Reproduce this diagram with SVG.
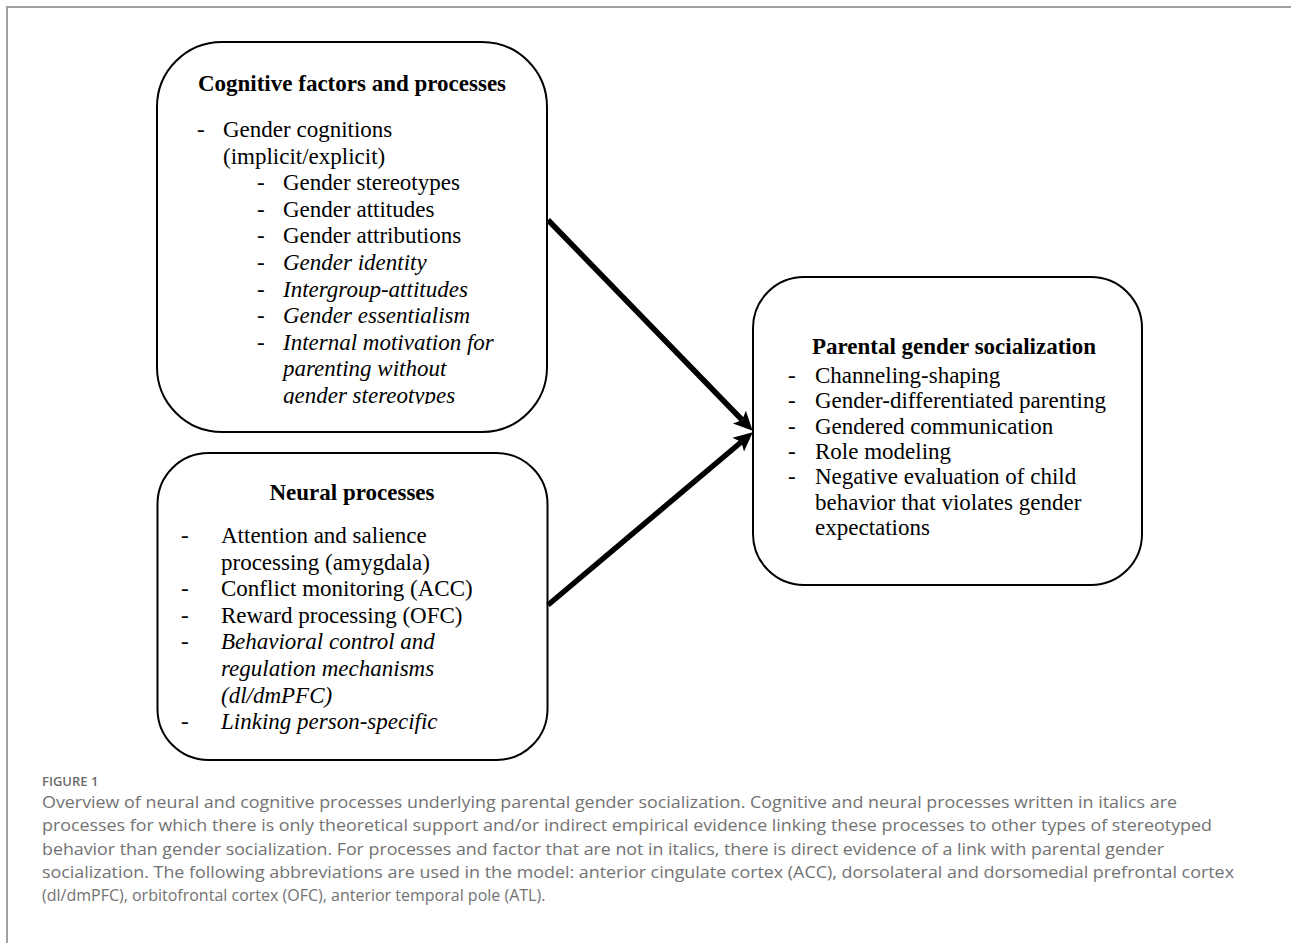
<svg xmlns="http://www.w3.org/2000/svg" width="1291" height="943" viewBox="0 0 1291 943">
<style>
.box{fill:#fff;stroke:#000;stroke-width:2}
.t{font-family:"Liberation Serif","Times New Roman",serif;font-size:23px;fill:#000}
.b{font-weight:bold}
.i{font-style:italic}
.m{text-anchor:middle}
.conn{stroke:#000;stroke-width:5.5;fill:none}
.cap{font-family:"Open Sans","Liberation Sans",sans-serif;font-size:16px;fill:#727272}
.fig{font-family:"Open Sans","Liberation Sans",sans-serif;font-size:13px;fill:#6b6b6b;font-weight:600}
.frame{stroke:#a0a0a0;stroke-width:2;fill:none}
</style>
<defs>
<marker id="ah" markerUnits="userSpaceOnUse" markerWidth="24" markerHeight="24" viewBox="-2 -12 24 24" refX="4" refY="0" orient="auto">
<path d="M0,-9 L19,0 L0,9 L4,0 Z" fill="#000"/>
</marker>
<clipPath id="c1"><rect x="150" y="40" width="400" height="364"/></clipPath>
</defs>
<rect width="1291" height="943" fill="#fff"/>
<path class="frame" d="M7,943 L7,7 L1291,7"/>

<g id="cognitive">
<rect class="box" x="157" y="42" width="390" height="390" rx="65" ry="65"/>
<g clip-path="url(#c1)">
<text class="t b m" x="352" y="91">Cognitive factors and processes</text>
<text class="t" x="197" y="137">-</text>
<text class="t" x="223" y="137">Gender cognitions</text>
<text class="t" x="223" y="163.6">(implicit/explicit)</text>
<text class="t" x="257" y="190.2">-</text>
<text class="t" x="283" y="190.2">Gender stereotypes</text>
<text class="t" x="257" y="216.8">-</text>
<text class="t" x="283" y="216.8">Gender attitudes</text>
<text class="t" x="257" y="243.4">-</text>
<text class="t" x="283" y="243.4">Gender attributions</text>
<text class="t" x="257" y="270">-</text>
<text class="t i" x="283" y="270">Gender identity</text>
<text class="t" x="257" y="296.6">-</text>
<text class="t i" x="283" y="296.6">Intergroup-attitudes</text>
<text class="t" x="257" y="323.2">-</text>
<text class="t i" x="283" y="323.2">Gender essentialism</text>
<text class="t" x="257" y="349.8">-</text>
<text class="t i" x="283" y="349.8">Internal motivation for</text>
<text class="t i" x="283" y="376.4">parenting without</text>
<text class="t i" x="283" y="403">gender stereotypes</text>
</g>
</g>

<g id="neural">
<rect class="box" x="157.5" y="453" width="390" height="307" rx="51" ry="51"/>
<text class="t b m" x="352" y="500">Neural processes</text>
<text class="t" x="181" y="543">-</text>
<text class="t" x="221" y="543">Attention and salience</text>
<text class="t" x="221" y="569.6">processing (amygdala)</text>
<text class="t" x="181" y="596.2">-</text>
<text class="t" x="221" y="596.2">Conflict monitoring (ACC)</text>
<text class="t" x="181" y="622.8">-</text>
<text class="t" x="221" y="622.8">Reward processing (OFC)</text>
<text class="t" x="181" y="649.4">-</text>
<text class="t i" x="221" y="649.4">Behavioral control and</text>
<text class="t i" x="221" y="676">regulation mechanisms</text>
<text class="t i" x="221" y="702.6">(dl/dmPFC)</text>
<text class="t" x="181" y="729.2">-</text>
<text class="t i" x="221" y="729.2">Linking person-specific</text>
</g>

<g id="parental">
<rect class="box" x="753" y="277" width="389" height="308" rx="51" ry="51"/>
<text class="t b m" x="954" y="354">Parental gender socialization</text>
<text class="t" x="788" y="383">-</text>
<text class="t" x="815" y="383">Channeling-shaping</text>
<text class="t" x="788" y="408.3">-</text>
<text class="t" x="815" y="408.3">Gender-differentiated parenting</text>
<text class="t" x="788" y="433.6">-</text>
<text class="t" x="815" y="433.6">Gendered communication</text>
<text class="t" x="788" y="459">-</text>
<text class="t" x="815" y="459">Role modeling</text>
<text class="t" x="788" y="484.3">-</text>
<text class="t" x="815" y="484.3">Negative evaluation of child</text>
<text class="t" x="815" y="509.6">behavior that violates gender</text>
<text class="t" x="815" y="535">expectations</text>
</g>

<g id="connectors">
<path class="conn" d="M548,220 L742.2,420" marker-end="url(#ah)"/>
<path class="conn" d="M548,605 L741.3,442" marker-end="url(#ah)"/>
</g>

<g id="caption">
<text class="fig" x="42" y="786">FIGURE 1</text>
<text class="cap" x="42" y="808" textLength="1135" lengthAdjust="spacingAndGlyphs">Overview of neural and cognitive processes underlying parental gender socialization. Cognitive and neural processes written in italics are</text>
<text class="cap" x="42" y="831" textLength="1170" lengthAdjust="spacingAndGlyphs">processes for which there is only theoretical support and/or indirect empirical evidence linking these processes to other types of stereotyped</text>
<text class="cap" x="42" y="855" textLength="1122" lengthAdjust="spacingAndGlyphs">behavior than gender socialization. For processes and factor that are not in italics, there is direct evidence of a link with parental gender</text>
<text class="cap" x="42" y="878" textLength="1192" lengthAdjust="spacingAndGlyphs">socialization. The following abbreviations are used in the model: anterior cingulate cortex (ACC), dorsolateral and dorsomedial prefrontal cortex</text>
<text class="cap" x="42" y="901">(dl/dmPFC), orbitofrontal cortex (OFC), anterior temporal pole (ATL).</text>
</g>
</svg>
